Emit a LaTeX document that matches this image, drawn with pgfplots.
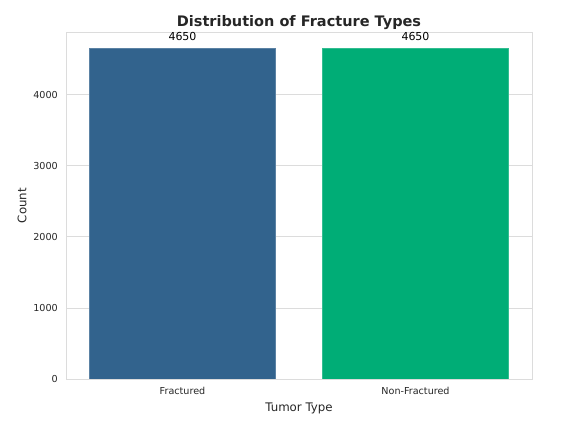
\documentclass[border=0pt]{standalone}
\usepackage{fontspec}
\setmainfont{DejaVu Sans}
\usepackage{pgfplots}
\pgfplotsset{compat=1.18}

\definecolor{fracblue}{HTML}{32638D}
\definecolor{nonfracgreen}{HTML}{00AD76}
\definecolor{gridgray}{HTML}{DCDCDC}
\definecolor{textdark}{HTML}{262626}

\begin{document}
\begin{tikzpicture}
\useasboundingbox (0,0) rectangle (568bp,432bp);
\begin{axis}[
  at={(66bp,53bp)}, anchor=south west,
  scale only axis, width=466bp, height=347bp,
  xmin=-0.5, xmax=1.5, ymin=0, ymax=4882.5,
  xtick={0,1}, xticklabels={Fractured,Non-Fractured},
  ytick={0,1000,2000,3000,4000},
  major tick length=0pt,
  ymajorgrids, grid style={gridgray, line width=0.8bp},
  axis line style={gridgray, line width=0.8bp},
  /pgf/number format/1000 sep={},
  /pgf/number format/assume math mode=true,
  ticklabel style={font=\fontsize{9.6bp}{11bp}\selectfont, text=textdark, inner sep=0pt},
  xticklabel style={anchor=north, yshift=-8bp},
  yticklabel style={anchor=east, xshift=-8bp},
  every axis title shift=0pt,
  title={Distribution of Fracture Types},
  title style={at={(axis description cs:0.5,1.026)}, anchor=center,
    font=\fontsize{14.5bp}{17bp}\selectfont\bfseries, text=textdark},
  xlabel={Tumor Type},
  xlabel style={at={(axis description cs:0.5,-0.0836)}, anchor=center,
    font=\fontsize{11.8bp}{14bp}\selectfont, text=textdark},
  ylabel={Count},
  ylabel style={at={(axis description cs:-0.0944,0.5)}, anchor=center,
    font=\fontsize{11.8bp}{14bp}\selectfont, text=textdark},
  ybar, bar width=0.8,
  nodes near coords,
  every node near coord/.style={font=\fontsize{11bp}{13bp}\selectfont, text=black,
    anchor=south, inner sep=0pt, yshift=8bp},
]
\addplot[fill=fracblue, draw=fracblue!80!white, line width=0.5bp, bar shift=0pt]
  coordinates {(0,4650)};
\addplot[fill=nonfracgreen, draw=nonfracgreen!80!white, line width=0.5bp, bar shift=0pt]
  coordinates {(1,4650)};
\end{axis}
\end{tikzpicture}
\end{document}
